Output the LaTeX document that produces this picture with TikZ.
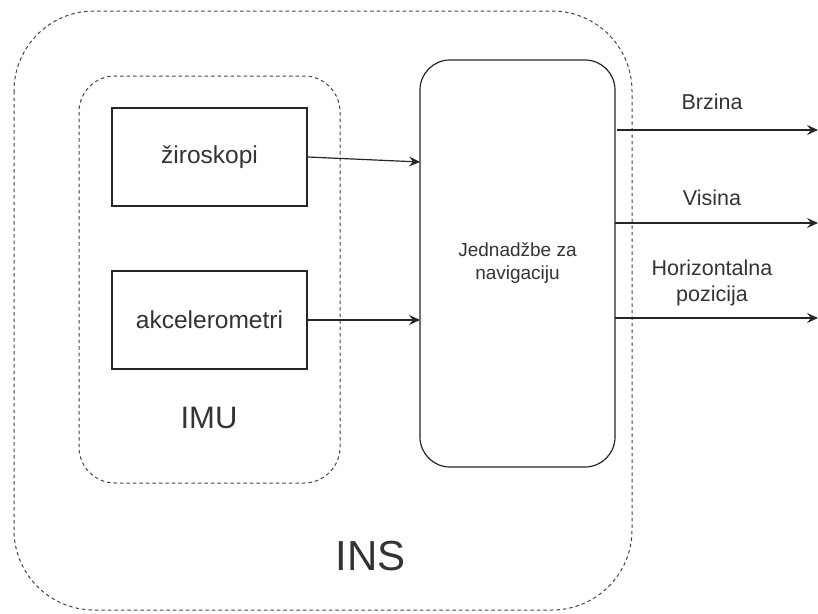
\documentclass[tikz,border=0pt]{standalone}
\usepackage{fontspec}
\setmainfont{Liberation Sans}
\usetikzlibrary{arrows.meta}
\definecolor{txt}{HTML}{333333}
\definecolor{dash}{HTML}{444444}
\tikzset{
  dashbox/.style={draw=dash, line width=1pt, dash pattern=on 3.5pt off 3pt},
  sensor/.style={draw=black!85, line width=1.2pt, minimum width=195pt, minimum height=98pt, inner sep=0pt, font=\fontsize{24.5}{28}\selectfont, text=txt},
  navbox/.style={draw=black!85, line width=1.2pt, rounded corners=30pt, minimum width=195pt, minimum height=407pt, inner sep=0pt, align=center, font=\fontsize{19}{23}\selectfont, text=txt},
  conn/.style={draw=black!85, line width=1.2pt, -{Stealth[length=11pt,width=10pt,inset=4pt]}},
  lbl/.style={text=txt, font=\fontsize{21.5}{26}\selectfont, align=center, inner sep=0pt}
}
\begin{document}
\begin{tikzpicture}[x=1pt,y=-1pt]
\useasboundingbox (0,0) rectangle (818,613);
% outer INS
\draw[dashbox, rounded corners=80pt] (14,11) rectangle (632,610);
% IMU
\draw[dashbox, rounded corners=36pt] (79,76) rectangle (340,483);
\node[sensor] (zir) at (209.5,157) {žiroskopi};
\node[sensor] (akc) at (209.5,320) {akcelerometri};
\node[navbox] (nav) at (517.5,263.5) {Jednadžbe za\\navigaciju};
\node[lbl, font=\fontsize{31}{36}\selectfont] (imu) at (209,418) {IMU};
\node[lbl, font=\fontsize{42}{48}\selectfont] (ins) at (371,556) {INS};
% inputs
\coordinate (in1) at (420,162);
\coordinate (in2) at (420,320);
\draw[conn] (zir.east) -- (in1);
\draw[conn] (akc.east) -- (in2);
% outputs
\coordinate (s1) at (617,130);
\coordinate (s2) at (615,223);
\coordinate (s3) at (615,318);
\coordinate (e1) at (818,130);
\coordinate (e2) at (818,223);
\coordinate (e3) at (818,318);
\draw[conn] (s1) -- (e1);
\draw[conn] (s2) -- (e2);
\draw[conn] (s3) -- (e3);
\node[lbl] (brz) at (712,102) {Brzina};
\node[lbl] (vis) at (712,198) {Visina};
\node[lbl] (hor) at (712,283) {Horizontalna\\pozicija};
\end{tikzpicture}
\end{document}
